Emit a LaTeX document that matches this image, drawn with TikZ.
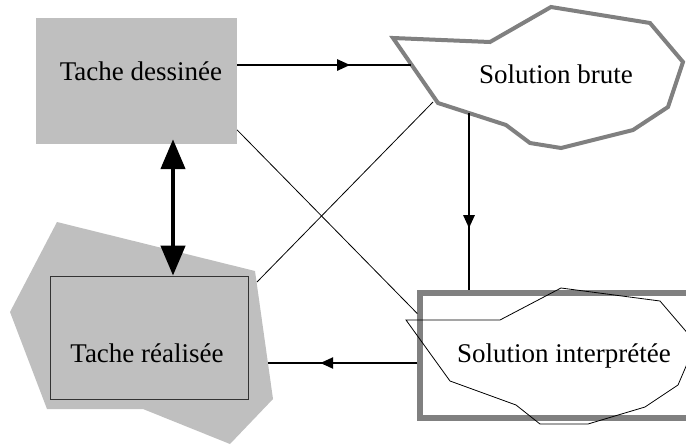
\documentclass[tikz,border=0pt]{standalone}
\usepackage{fontspec}
\setmainfont{Liberation Serif}
\usetikzlibrary{arrows.meta,decorations.markings}
\definecolor{boxgray}{gray}{0.75}
\definecolor{rimgray}{gray}{0.5}
\tikzstyle{tbox}=[rectangle, fill=boxgray, inner sep=0pt]
\tikzstyle{lbl}=[anchor=base, inner sep=0pt, font=\fontsize{27}{32}\selectfont]
\tikzstyle{flow}=[line width=2.5pt, postaction={decorate}, decoration={markings, mark=at position 0.65 with {\arrow{Triangle[length=13pt,width=11pt]}}}]
\tikzstyle{cross}=[line width=0.8pt]
\tikzstyle{bigtip}=[{Triangle[length=30pt,width=24pt]}-{Triangle[length=30pt,width=24pt]}, line width=4.5pt]

\begin{document}
\begin{tikzpicture}[x=1pt,y=-1pt]
\clip (0,0) rectangle (686,445);
% shapes
\node[tbox, minimum width=201pt, minimum height=126pt] (dess) at (136.5,81) {};
\fill[boxgray] (57,222) -- (255,271) -- (273,399) -- (230,444) -- (143,409) -- (47,409) -- (10,312) -- cycle;
\node[tbox, draw=black!80, line width=0.8pt, minimum width=198pt, minimum height=123pt] (real) at (149,337.5) {};
\draw[rimgray, line width=4pt, fill=white] (393,38) -- (490,42) -- (551,7) -- (650,23) -- (683,62) -- (668,107) -- (633,130) -- (561,148) -- (530,143) -- (506,125) -- (438,103) -- cycle;
\node[draw=rimgray, line width=5.5pt, inner sep=0pt, minimum width=272pt, minimum height=125pt] (interp) at (556,355.5) {};
\draw[cross] (406,320) -- (500,320) -- (561,288) -- (660,301) -- (696,343) -- (678,385) -- (645,407) -- (588,424) -- (540,424) -- (516,405) -- (450,381) -- cycle;
\coordinate (brute-w) at (411,65);
\coordinate (brute-s) at (469,113);
\coordinate (brute-sw) at (433,102);
\coordinate (real-e) at (268,363);
\coordinate (real-ne) at (257,282);
% texts
\node[lbl] (dess-t) at (141,80) {Tache dessinée};
\node[lbl] (brute-t) at (556,83) {Solution brute};
\node[lbl] (real-t) at (147,362) {Tache réalisée};
\node[lbl] (interp-t) at (564,362) {Solution interprétée};
% connectors
\draw[flow] ([yshift=16pt]dess.east) -- (brute-w);
\draw[flow] (brute-s) -- (brute-s |- interp.north);
\draw[flow] ([yshift=-7.5pt]interp.west) -- (real-e);
\draw[bigtip] ([xshift=36.5pt,yshift=5pt]dess.south) -- ([xshift=24pt]real.north);
\draw[cross] ([yshift=-49pt]dess.east) -- ([yshift=42pt]interp.west);
\draw[cross] (real-ne) -- (brute-sw);
\end{tikzpicture}
\end{document}
